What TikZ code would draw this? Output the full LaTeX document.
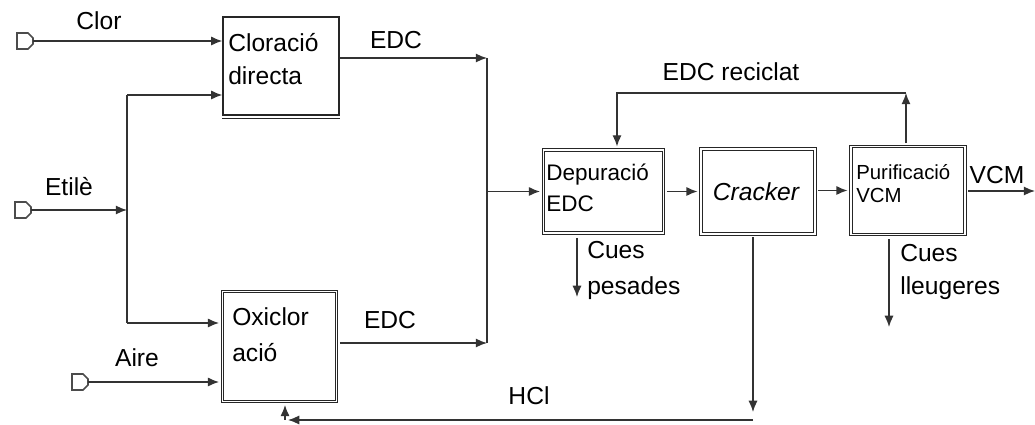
\documentclass[tikz,border=0pt]{standalone}
\usepackage{fontspec}
\setmainfont{Liberation Sans}
\usetikzlibrary{calc, arrows.meta}

\tikzset{
    unit/.style={draw=black!85, double, double distance=1.2pt, line width=0.8pt, inner sep=0pt},
    plain/.style={draw=black!85, line width=0.9pt, inner sep=0pt},
    txt/.style={inner sep=0pt, align=left, font=\fontsize{17.5}{23.5}\selectfont},
    flow/.style={line width=1pt, draw=black!80},
    srctag/.pic={\draw[gray!60!black, line width=1.1pt]
        (-8,-8) -- (3,-8) -- (8,-3) -- (8,3) -- (3,8) -- (-8,8) -- cycle;}
}

\begin{document}
\begin{tikzpicture}[x=0.025cm, y=-0.025cm, >={Latex[length=8pt, width=6.5pt]}]
    \useasboundingbox (0,0) rectangle (1035,425);

    % process units
    \node[plain, minimum width=2.9cm, minimum height=2.45cm] (cd) at (281,66) {};
    \draw[black!85, line width=0.8pt] ($(cd.south west)+(0,3)$) -- ($(cd.south east)+(0,3)$);
    \node[unit, minimum width=2.85cm, minimum height=2.75cm] (oxi) at (279.5,346.5) {};
    \node[unit, minimum width=3cm, minimum height=2.08cm] (dep) at (603.5,191.5) {};
    \node[unit, minimum width=2.85cm, minimum height=2.13cm] (crk) at (758,191.5) {};
    \node[unit, minimum width=2.85cm, minimum height=2.2cm] (pur) at (908,190.5) {};

    % texts in the units
    \node[txt, anchor=west] (cdtxt) at (228,59.5) {Cloració\\directa};
    \node[txt, anchor=west, font=\fontsize{17.5}{25.5}\selectfont] (oxitxt) at (232,335) {Oxiclor\\ació};
    \node[txt, anchor=west, font=\fontsize{16}{22}\selectfont] (deptxt) at (546,187.5) {Depuració\\EDC};
    \node[txt, font=\fontsize{17.5}{21}\selectfont\itshape] (crktxt) at (756,192) {Cracker};
    \node[txt, anchor=west, font=\fontsize{14.5}{16.5}\selectfont] (purtxt) at (856,183.5) {Purificació\\VCM};

    % feeds
    \pic at (25,41) {srctag};
    \pic at (23,210) {srctag};
    \pic at (80,382) {srctag};
    \coordinate (tclor) at (33,41);
    \coordinate (tetil) at (31,210);
    \coordinate (taire) at (88,382);
    \coordinate (jE) at (127,210);
    \coordinate (eUp) at (127,95);
    \coordinate (eDn) at (127,323);

    \draw[flow, ->] (tclor) -- (tclor -| cd.west);
    \draw[flow, ->] (tetil) -- (jE);
    \draw[flow] (eUp) -- (eDn);
    \draw[flow, ->] (eUp) -- (eUp -| cd.west);
    \draw[flow, ->] (eDn) -- ([xshift=-2pt]eDn -| oxi.west);
    \draw[flow, ->] (taire) -- ([xshift=-2pt]taire -| oxi.west);

    % EDC to purification
    \coordinate (m1) at (487,58);
    \coordinate (m2) at (487,343);
    \coordinate (mj) at (487,191.5);
    \draw[flow, ->] (cd.east |- m1) -- (m1);
    \draw[flow, ->] ([xshift=2pt]oxi.east |- m2) -- (m2);
    \draw[flow] (m1) -- (m2);
    \draw[flow, ->] (mj) -- ([xshift=-2pt]dep.west);

    \draw[flow, ->] ([xshift=2pt]dep.east) -- ([xshift=-2pt]crk.west);
    \draw[flow, ->] ([xshift=2pt]crk.east |- pur) -- ([xshift=-2pt]pur.west);
    \coordinate (vcm) at (1035,191);
    \draw[flow, ->] ([xshift=2pt]pur.east |- vcm) -- (vcm);

    % recycle
    \coordinate (r1) at (906,93);
    \coordinate (r2) at (617,93);
    \draw[flow, ->] ([yshift=2pt]r1 |- pur.north) -- (r1);
    \draw[flow, ->] (r1) -- (r2) -- ([yshift=2pt]r2 |- dep.north);

    % tails
    \coordinate (cp) at (577,297);
    \coordinate (cl) at (889,327);
    \draw[flow, ->] ([yshift=-3pt]cp |- dep.south) -- (cp);
    \draw[flow, ->] ([yshift=-3pt]cl |- pur.south) -- (cl);

    % HCl return
    \coordinate (h1) at (753,412);
    \coordinate (h2) at (753,420);
    \coordinate (h3) at (285,420);
    \draw[flow, ->] ([yshift=-2pt]h1 |- crk.south) -- (h1);
    \draw[flow, ->] (h2) -- (288,420);
    \draw[flow, ->] (h3) -- ([yshift=-2pt]h3 |- oxi.south);

    % stream labels
    \node[txt] (lclor) at (99,21) {Clor};
    \node[txt] (letil) at (69,187) {Etilè};
    \node[txt] (laire) at (137,358) {Aire};
    \node[txt] (ledc1) at (396,40) {EDC};
    \node[txt] (ledc2) at (390,320) {EDC};
    \node[txt] (lrec) at (731,72) {EDC reciclat};
    \node[txt] (lvcm) at (997,175) {VCM};
    \node[txt, anchor=west, font=\fontsize{17.5}{25}\selectfont] (lcp) at (587,270.5) {Cues\\pesades};
    \node[txt, anchor=west, font=\fontsize{17.5}{23.5}\selectfont] (lcl) at (900,271.5) {Cues\\lleugeres};
    \node[txt] (lhcl) at (529,396) {HCl};
\end{tikzpicture}
\end{document}
